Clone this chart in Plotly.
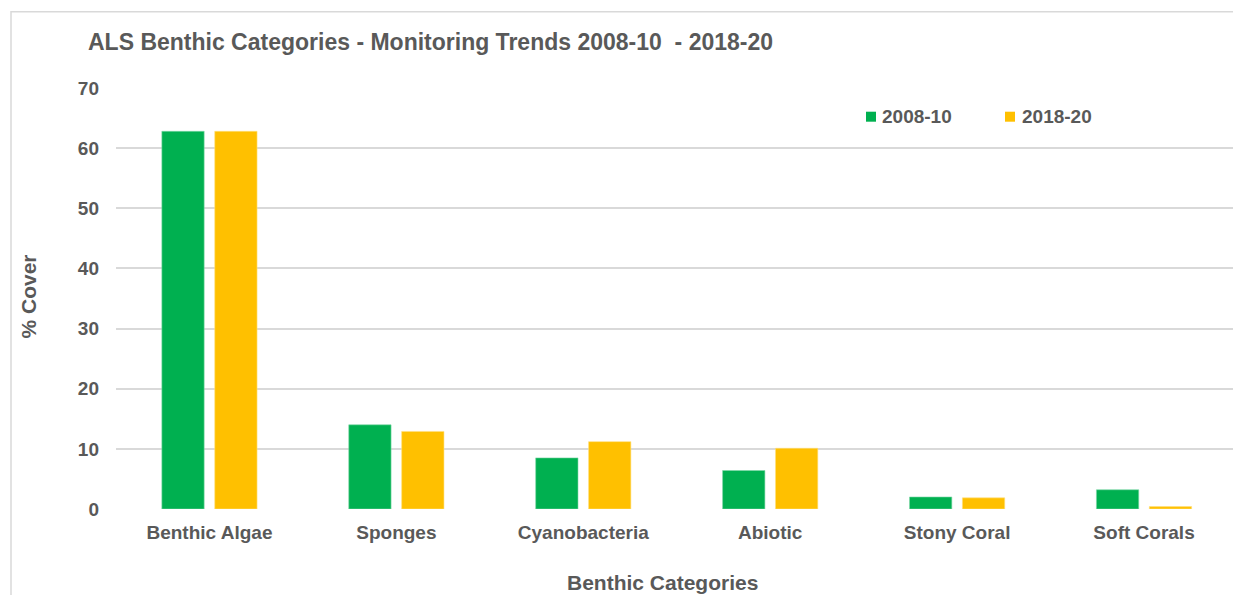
import plotly.graph_objects as go

# Benthic cover (%) by category for the two monitoring periods
categories = ["Benthic Algae", "Sponges", "Cyanobacteria", "Abiotic", "Stony Coral", "Soft Corals"]
cover_2008_10 = [62.8, 14.0, 8.5, 6.4, 2.0, 3.2]
cover_2018_20 = [62.8, 12.9, 11.2, 10.1, 1.85, 0.4]
period_labels = ["2008-10", "2018-20"]
period_colors = ["#00B050", "#FFC000"]
y_ticks = [0, 10, 20, 30, 40, 50, 60, 70]

TEXT = "#595959"
GRID = "#d9d9d9"
FONT = "Liberation Sans, Arial, sans-serif"

W, H = 1233, 595
ML, MR, MT, MB = 116, 0, 88, 86
PW, PH = W - ML - MR, H - MT - MB


def px_x(px):
    return (px - ML) / PW


def px_y(py):
    return (H - MB - py) / PH


def bold(size):
    return dict(size=size, color=TEXT, family=FONT, weight="bold")


fig = go.Figure()
for name, vals, col, edge in zip(period_labels, [cover_2008_10, cover_2018_20],
                                 period_colors, ["#7fd8a7", "#ffe07f"]):
    fig.add_trace(go.Bar(
        x=categories, y=vals, name=name,
        marker=dict(color=col, line=dict(color=edge, width=0.6)),
    ))

# legend drawn as small square keys with labels beside them
legend_keys = [(866, 880), (1005, 1020)]
shapes = [
    dict(type="rect", xref="paper", yref="paper", layer="below",
         x0=px_x(11), x1=px_x(W + 20), y0=px_y(11.7), y1=px_y(H + 20),
         line=dict(color=GRID, width=1.5), fillcolor="rgba(0,0,0,0)"),
]
annotations = [
    dict(text="Benthic Categories", xref="paper", yref="paper",
         x=px_x(662.5), y=px_y(582), xanchor="center", yanchor="middle",
         showarrow=False, font=bold(21)),
    dict(text="% Cover", xref="paper", yref="paper",
         x=px_x(27.5), y=px_y(297), xanchor="center", yanchor="middle",
         textangle=-90, showarrow=False, font=bold(21)),
]
for (kx, tx), name, col in zip(legend_keys, period_labels, period_colors):
    shapes.append(dict(type="rect", xref="paper", yref="paper",
                       x0=px_x(kx), x1=px_x(kx + 10),
                       y0=px_y(111.7), y1=px_y(121.7),
                       line=dict(width=0), fillcolor=col))
    annotations.append(dict(text=name, xref="paper", yref="paper",
                            x=px_x(tx), y=px_y(116.7), xanchor="left", yanchor="middle",
                            showarrow=False, font=bold(19)))

fig.update_layout(
    width=W, height=H,
    margin=dict(l=ML, r=MR, t=MT, b=MB, pad=0),
    paper_bgcolor="white", plot_bgcolor="white",
    barmode="group", bargap=0.434, bargroupgap=0.2,
    font=dict(family=FONT, color=TEXT, size=19),
    title=dict(
        text="ALS Benthic Categories - Monitoring Trends 2008-10  - 2018-20",
        x=88 / W, xanchor="left", xref="container",
        y=1 - 42 / H, yanchor="middle", yref="container",
        font=bold(23),
    ),
    showlegend=False,
    xaxis=dict(
        range=[-0.5, 5.476], showgrid=False, zeroline=False, showline=False,
        ticks="", ticklabelstandoff=10, tickfont=bold(19),
    ),
    yaxis=dict(
        range=[0, 70], tickvals=y_ticks, showgrid=True, gridcolor=GRID, gridwidth=2,
        zeroline=False, showline=False, ticks="", ticklabelstandoff=16,
        tickfont=bold(19),
    ),
    annotations=annotations,
    shapes=shapes,
)

fig.write_html("out.html")
